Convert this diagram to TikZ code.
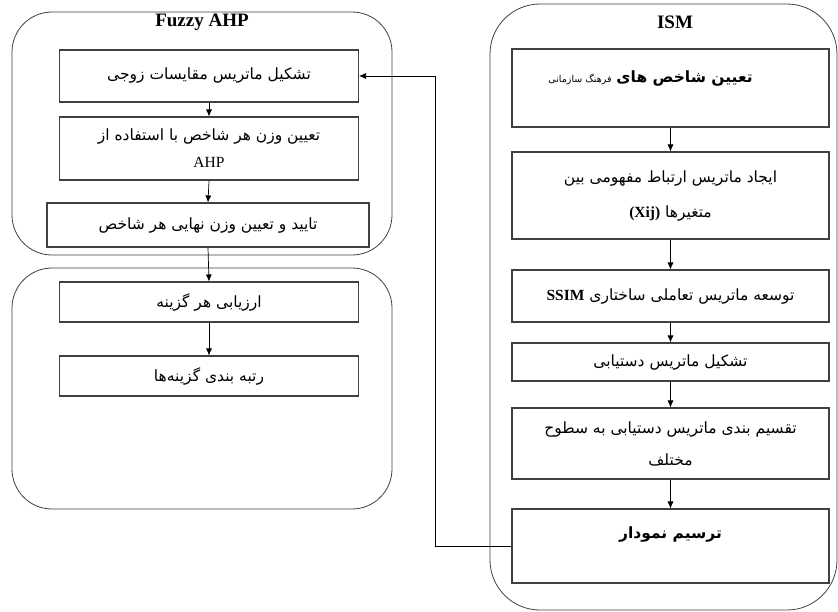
\documentclass[tikz,border=0pt]{standalone}
\usepackage{fontspec}
\setmainfont{Liberation Serif}
\newfontfamily\arabicfont[Script=Arabic]{DejaVu Sans}
\TeXXeTstate=1
\usetikzlibrary{arrows.meta}
\newcommand{\fa}[1]{{\arabicfont\beginR #1\endR}}
\newcommand{\en}[1]{\beginL{\rmfamily #1}\endL}
\begin{document}
\begin{tikzpicture}[
      x=1pt, y=-1pt,
      group/.style={draw=black!75, line width=0.8pt, rounded corners=40pt},
      stepbox/.style={draw=black!75, line width=1.1pt, align=center, inner sep=2pt,
        font=\fontsize{15.5}{27}\selectfont},
      lbox/.style={stepbox, minimum width=299},
      rbox/.style={stepbox, minimum width=317},
      title/.style={font=\fontsize{19}{21}\selectfont\bfseries},
      arr/.style={-{Latex[length=7pt, width=6pt]}, line width=0.7pt}
    ]
    \useasboundingbox (0,0) rectangle (838,611);
    \draw[group] (12,12) rectangle (392,255);
    \draw[group] (12,268) rectangle (392,509);
    \draw[group, rounded corners=50pt] (490,4) rectangle (837,610);
    \node[title] (tfz) at (202,22) {Fuzzy AHP};
    \node[title] (tism) at (675,22) {ISM};

    \node[lbox, minimum height=52] (f1) at (209,76) {\fa{تشکیل ماتریس مقایسات زوجی}};
    \node[lbox, minimum height=63] (f2) at (209,148.5) {\fa{تعیین وزن هر شاخص با استفاده  از}\\\en{AHP}};
    \node[lbox, minimum height=44, minimum width=322] (f3) at (208,225) {\fa{تایید و تعیین وزن نهایی هر شاخص}};
    \node[lbox, minimum height=40] (f4) at (209,302) {\fa{ارزیابی هر گزینه}};
    \node[lbox, minimum height=40] (f5) at (209,376) {\fa{رتبه بندی گزینه‌ها}};

    \node[rbox, minimum height=78, text height=12pt, text depth=24pt] (r1) at (670.5,88) {\hspace*{-40pt}\fa{{\bfseries تعیین شاخص های} {\fontsize{9.5}{10}\selectfont فرهنگ سازمانی}}};
    \node[rbox, minimum height=87] (r2) at (670.5,195.5) {\fa{ایجاد ماتریس ارتباط مفهومی بین}\\[8pt]\fa{متغیرها \en{\bfseries (Xij)}}};
    \node[rbox, minimum height=52] (r3) at (670.5,296) {\fa{توسعه ماتریس تعاملی ساختاری \en{\bfseries SSIM}}};
    \node[rbox, minimum height=38] (r4) at (670.5,362) {\fa{تشکیل ماتریس دستیابی}};
    \node[rbox, minimum height=71] (r5) at (670.5,443.5) {\fa{تقسیم بندی ماتریس دستیابی به سطوح}\\[5pt]\fa{مختلف}};
    \node[rbox, minimum height=74, text height=12pt, text depth=28pt] (r6) at (670.5,546) {\fa{\bfseries ترسیم نمودار}};

    \draw[arr] (f1.south) -- (f2.north);
    \draw[arr] (f2.south) -- (f3.north);
    \draw[arr] (f3.south) -- (f4.north);
    \draw[arr] (f4.south) -- (f5.north);
    \draw[arr] (r1.south) -- (r2.north);
    \draw[arr] (r2.south) -- (r3.north);
    \draw[arr] (r3.south) -- (r4.north);
    \draw[arr] (r4.south) -- (r5.north);
    \draw[arr] (r5.south) -- (r6.north);
    \coordinate (fb) at (435,0);
    \draw[arr] (r6.west) -- (r6.west -| fb) |- (f1.east);
\end{tikzpicture}
\end{document}
